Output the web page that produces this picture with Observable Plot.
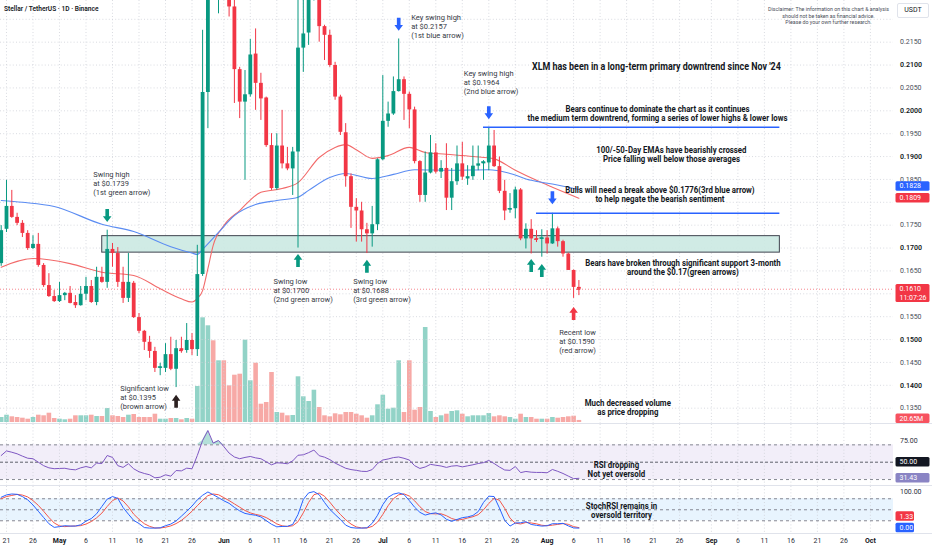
<!DOCTYPE html>
<html>
<head>
<meta charset="utf-8">
<script src="https://cdn.jsdelivr.net/npm/d3@7"></script>
<script src="https://cdn.jsdelivr.net/npm/@observablehq/plot@0.6"></script>
<style>
  html,body{margin:0;padding:0;background:#fff;}
  #chart{position:relative;width:932px;height:550px;overflow:hidden;background:#fff;font-family:Roboto,"Liberation Sans",sans-serif;}
  .sep{position:absolute;left:0;width:932px;height:1px;background:#e0e3eb;}
  #title{position:absolute;left:4px;top:5px;font-size:6.6px;font-weight:600;color:#131722;white-space:nowrap;}
  #disclaimer{position:absolute;left:755px;width:147px;top:6px;font-size:5.3px;line-height:6.5px;text-align:center;color:#4a4e59;}
  #usdt{position:absolute;left:897px;top:3px;width:32px;height:15px;border:1px solid #e0e3eb;border-radius:2px;font-size:7px;line-height:13px;text-align:center;color:#131722;box-sizing:border-box;}
</style>
</head>
<body>
<div id="chart">
  <div id="title">Stellar / TetherUS · 1D · Binance</div>
  <div id="disclaimer">Disclaimer: The information on this chart &amp; analysis<br>should not be taken as financial advice.<br>Please do your own further research.</div>
  <div id="usdt">USDT</div>
</div>
<script>
// ---------------- DATA ----------------
const firstDay = "2025-04-20";
const opens = [
  .1666,.1741,.1791,.1767,.1754,.1732,.1699,.1708,.1662,.1618,.1594,
  .1583,.1596,.1601,.1581,.1574,.1599,.1616,.1581,.1636,.1625,.1697,.1688,.1625,.1590,.1623,.1548,.1518,.1494,.1474,.1437,.1437,.1467,.1435,.1480,.1476,.1498,.1478,.1642,.2040,.2350,.2300,
  .2380,.2310,.2227,.2090,.2019,.2035,.2124,.2060,.2028,.1924,.1830,.1923,.1884,.1873,.1910,.2137,.2170,.2300,.2330,.2184,.2165,.2099,.2030,.1952,.1856,.1789,.1781,.1740,.1731,.1751,
  .1893,.1977,.1993,.2042,.2068,.2036,.2002,.1889,.1815,.1864,.1908,.1866,.1874,.1809,.1845,.1884,.1851,.1856,.1879,.1884,.1886,.1923,.1878,.1824,.1783,.1786,.1827,.1720,.1741,.1721,.1719,
  .1722,.1709,.1742,.1714,.1687,.1651,.1614
];
const highs = [
  .1749,.1848,.1826,.1776,.1760,.1738,.1727,.1732,.1666,.1644,.1607,
  .1625,.1603,.1616,.1596,.1616,.1636,.1629,.1658,.1658,.1739,.1710,.1701,.1658,.1688,.1627,.1557,.1520,.1507,.1483,.1448,.1491,.1505,.1498,.1505,.1535,.1513,.1706,.2176,.2420,.2480,.2440,
  .2420,.2330,.2245,.2095,.2088,.2156,.2179,.2082,.2030,.1950,.1950,.2001,.1920,.1920,.2260,.2250,.2350,.2400,.2350,.2187,.2176,.2106,.2034,.1972,.1862,.1808,.1800,.1754,.1791,.1895,
  .2077,.2019,.2074,.2157,.2074,.2041,.2008,.1891,.1910,.1946,.1928,.1891,.1928,.1874,.1923,.1931,.1880,.1923,.1923,.1891,.1964,.1957,.1899,.1848,.1819,.1833,.1830,.1753,.1762,.1738,.1740,
  .1738,.1776,.1746,.1717,.1689,.1652,.1629
];
const lows = [
  .1660,.1734,.1765,.1749,.1723,.1695,.1697,.1658,.1614,.1592,.1581,
  .1581,.1585,.1578,.1568,.1573,.1585,.1579,.1574,.1623,.1612,.1658,.1614,.1579,.1581,.1546,.1513,.1476,.1459,.1428,.1421,.1428,.1432,.1395,.1470,.1470,.1465,.1463,.1638,.1961,.2260,.2212,
  .2270,.2205,.2016,.1983,.1848,.2030,.2001,.1979,.1920,.1826,.1826,.1873,.1869,.1815,.1700,.2084,.2143,.2240,.2150,.2110,.2095,.2023,.1946,.1833,.1743,.1713,.1713,.1688,.1702,.1738,
  .1891,.1964,.1990,.2041,.1979,.1961,.1884,.1800,.1800,.1862,.1862,.1852,.1782,.1782,.1837,.1848,.1837,.1848,.1869,.1848,.1869,.1876,.1819,.1760,.1776,.1764,.1716,.1698,.1687,.1712,.1680,
  .1687,.1708,.1702,.1680,.1651,.1590,.1596
];
const closes = [
  .1738,.1791,.1767,.1754,.1732,.1699,.1708,.1662,.1618,.1594,.1583,
  .1596,.1601,.1579,.1574,.1599,.1616,.1581,.1636,.1625,.1697,.1688,.1625,.1590,.1625,.1548,.1518,.1494,.1474,.1437,.1440,.1467,.1435,.1480,.1476,.1498,.1478,.1642,.2040,.2350,.2300,.2380,
  .2310,.2227,.2090,.2019,.2035,.2122,.2060,.2026,.1924,.1830,.1923,.1884,.1873,.1910,.2137,.2168,.2300,.2330,.2184,.2165,.2099,.2030,.1953,.1856,.1789,.1781,.1740,.1731,.1751,.1893,
  .1977,.1993,.2042,.2068,.2036,.2002,.1889,.1815,.1864,.1908,.1866,.1874,.1809,.1845,.1884,.1855,.1856,.1879,.1884,.1888,.1923,.1878,.1824,.1781,.1786,.1827,.1720,.1741,.1720,.1719,.1722,
  .1709,.1742,.1714,.1687,.1651,.1614,.1610
];
const volumeM = [
  50,73,57,50,43,33,50,73,67,93,40,
  33,27,33,67,67,67,73,60,60,140,67,60,50,73,80,50,50,50,83,33,33,40,40,27,40,33,360,1047,967,817,617,
  617,367,473,483,823,417,593,183,200,500,100,93,67,70,457,257,210,323,150,67,57,87,77,100,100,83,67,43,67,177,
  273,133,143,617,100,617,123,150,950,110,50,67,83,110,117,83,57,67,67,67,90,57,67,57,50,33,83,50,50,33,33,
  33,50,43,50,57,63,20.65
];
const rsiValues = [
  57.7,63,61.5,59.7,57,54.6,54,50,46,43.5,42.5,
  42.8,43,41.8,41.2,43.5,45,43.5,49,48.5,57.7,55.5,46,44,48.2,42.4,39,37,35.5,32,32.7,35.5,33.9,40.4,40,43.1,42.4,57.7,75,86.5,72,75,
  68,60.5,56,54,55.5,56.6,55,54,50.5,47,49.3,49,48.2,51.5,58,58.5,61,64,57.5,55.8,53,49,46,43,41.5,40.6,39.5,39.3,41.5,48.5,
  52.5,53.7,55.3,56,54.5,52.5,46,42.8,44.5,47.5,46.5,45.6,44,45.5,46,44.6,45.8,47,48.5,49.5,52,48.5,44.5,41,40.6,45,38,39.3,38.5,38.2,38.2,
  37.8,41.6,39.5,37,34,31,31.43
];
const stochK = [
  84,90.5,93,92,86,77,63,46,29,12,2,
  4,6.5,5.5,5.5,9,19,26,39,59,79,86,81,56,38,21,12.5,1.5,0,0,0.8,6.5,11,19.5,32.5,46,60,77,89.5,98.5,91,83,
  74.5,67.5,56.5,47,40,37.2,35,30.5,20.5,10.5,3.5,4.5,5,10,37,78,96,99.5,91,70,51,37,23.5,8,1.5,0,0,0.8,13,35,
  64,84,92.5,96,91.5,75,57,43,35.5,39.5,41.5,36,24,18.5,23.5,28.5,30.5,34.4,45,70,87,86,55,21,5.5,14,14.5,17.5,10,7.5,5.5,
  6.5,12,11.8,13,6,0.5,0
];
const stochD = [
  80,86,89,92,90,85,75,62,46,29,14,
  6,4,5.3,5.8,6.7,11,18,28,41,59,75,82,74,58,38,24,12,4.7,0.5,0.3,2.4,6,12.3,21,32.7,46,61,75.5,88.5,93,91,
  83,75,66,57,48,41.4,37.4,34.2,28.7,20.5,11.5,6.2,4.3,6.5,17.3,41.7,70,91,95.5,86.8,70.7,52.7,37.2,22.8,11,3.2,0.5,0.3,4.6,16.3,
  37.3,61,80.2,90.8,93.3,87.5,74.5,58.3,45.2,39.3,38.8,39,33.8,26.2,22,23.5,27.5,31.1,36.6,49.8,67.3,81,76,54,27.2,13.5,11.3,15.3,14,11.7,7.7,
  6.5,8,10.1,12.3,10.3,4,1.33
];
const ema50Dates = ["2025-04-20","2025-04-26","2025-05-03","2025-05-09","2025-05-15","2025-05-20","2025-05-24","2025-05-26","2025-05-27","2025-05-28","2025-05-29","2025-05-30","2025-06-01","2025-06-04","2025-06-08","2025-06-12","2025-06-15","2025-06-19","2025-06-22","2025-06-24","2025-06-26","2025-06-29","2025-07-02","2025-07-06","2025-07-09","2025-07-13","2025-07-18","2025-07-22","2025-07-26","2025-07-30","2025-08-02","2025-08-07"];
const ema50Values = [.1658,.1677,.1666,.1647,.1640,.1611,.1589,.1582,.1590,.1607,.1655,.1706,.1749,.1782,.1822,.1830,.1843,.1898,.1920,.1926,.1915,.1896,.1902,.1920,.1909,.1905,.1900,.1895,.1870,.1848,.1833,.1809];
const ema100Dates = ["2025-04-20","2025-04-24","2025-04-30","2025-05-09","2025-05-15","2025-05-22","2025-05-26","2025-05-27","2025-05-28","2025-05-31","2025-06-03","2025-06-07","2025-06-11","2025-06-15","2025-06-17","2025-06-21","2025-06-24","2025-06-29","2025-07-03","2025-07-07","2025-07-14","2025-07-21","2025-07-25","2025-07-29","2025-08-02","2025-08-07"];
const ema100Values = [.1804,.1800,.1791,.1752,.1736,.1703,.1689,.1686,.1697,.1734,.1771,.1795,.1804,.1811,.1826,.1854,.1863,.1852,.1861,.1871,.1870,.1871,.1863,.1848,.1840,.1828];
const lastPrice = 0.1610;
const priceGrid = [0.1350,0.1400,0.1450,0.1500,0.1550,0.1600,0.1650,0.1700,0.1750,0.1800,0.1850,0.1900,0.1950,0.2000,0.2050,0.2100,0.2150,0.2200];
const priceLabelsStrong = [0.1400,0.1500,0.1700,0.1900,0.2000,0.2100];
const priceLabelsLight = [0.1350,0.1450,0.1550,0.1650,0.1750,0.1850,0.1950,0.2050,0.2150];
const tickDates = ["2025-04-21","2025-04-26","2025-05-01","2025-05-06","2025-05-11","2025-05-16","2025-05-21","2025-05-26","2025-06-01","2025-06-06","2025-06-11","2025-06-16","2025-06-21","2025-06-26","2025-07-01","2025-07-06","2025-07-11","2025-07-16","2025-07-21","2025-07-26","2025-08-01","2025-08-06","2025-08-11","2025-08-16","2025-08-21","2025-08-26","2025-09-01","2025-09-06","2025-09-11","2025-09-16","2025-09-21","2025-09-26","2025-10-01"];
const supportZone = {from: "2025-05-09T01:30Z", to: "2025-09-13T22:00Z", low: 0.1690, high: 0.1726};
const resistanceLevels = [
  {from: "2025-07-20T00:00Z", to: "2025-09-13T22:00Z", price: 0.1964},
  {from: "2025-07-30T00:00Z", to: "2025-09-13T22:00Z", price: 0.1776}
];
const markers = [
  {date: "2025-05-10", price: 0.1771, dir: "down", color: "#089981"},
  {date: "2025-06-15", price: 0.1673, dir: "up", color: "#089981"},
  {date: "2025-06-28", price: 0.1660, dir: "up", color: "#089981"},
  {date: "2025-07-29", price: 0.1662, dir: "up", color: "#089981"},
  {date: "2025-07-31", price: 0.1651, dir: "up", color: "#089981"},
  {date: "2025-07-04", price: 0.2189, dir: "down", color: "#2962ff"},
  {date: "2025-07-21", price: 0.1996, dir: "down", color: "#2962ff"},
  {date: "2025-08-02", price: 0.1810, dir: "down", color: "#2962ff"},
  {date: "2025-05-23", price: 0.1365, dir: "up", color: "#2b2020"},
  {date: "2025-08-06", price: 0.1557, dir: "up", color: "#f23645"}
];
const notes = [
  {date: "2025-05-07T08:40Z", price: 0.1841, text: "Swing high\nat $0.1739\n(1st green arrow)"},
  {date: "2025-07-06T08:40Z", price: 0.2185, text: "Key swing high\nat $0.2157\n(1st blue arrow)"},
  {date: "2025-07-16T06:40Z", price: 0.2062, text: "Key swing high\nat $0.1964\n(2nd blue arrow)"},
  {date: "2025-06-10T09:00Z", price: 0.1609, text: "Swing low\nat $0.1700\n(2nd green arrow)"},
  {date: "2025-06-25T10:00Z", price: 0.1607, text: "Swing low\nat $0.1688\n(3rd green arrow)"},
  {date: "2025-05-12T10:50Z", price: 0.1375, text: "Significant low\nat $0.1395\n(brown arrow)"},
  {date: "2025-08-03T06:40Z", price: 0.1497, text: "Recent low\nat $0.1590\n(red arrow)"}
];
const headline = {date: "2025-08-21T15:00Z", price: 0.2097, text: "XLM has been in a long-term primary downtrend since Nov '24"};
const callouts = [
  {date: "2025-08-21T20:00Z", price: 0.1993, text: "Bears continue to dominate the chart as it continues\nthe medium term downtrend, forming a series of lower highs & lower lows"},
  {date: "2025-08-24T11:00Z", price: 0.1905, text: "100/-50-Day EMAs have bearishly crossed\nPrice falling well below those averages"},
  {date: "2025-08-22T07:00Z", price: 0.1817, text: "Bulls will need a break above $0.1776(3rd blue arrow)\nto help negate the bearish sentiment"},
  {date: "2025-08-26T15:00Z", price: 0.1657, text: "Bears have broken through significant support 3-month\naround the $0.17(green arrows)"},
  {date: "2025-08-16T05:30Z", price: 0.1351, text: "Much decreased volume\nas price dropping"}
];
const rsiNote = {date: "2025-08-14T02:00Z", value: 41.0, text: "RSI dropping\nNot yet oversold"};
const stochNote = {date: "2025-08-15T01:00Z", value: 47.4, text: "StochRSI remains in\noversold territory"};
const rsiBand = [30, 70];
const stochBand = [20, 80];

// ---------------- BUILD ----------------
const DAY = 864e5;
const t0 = Date.parse(firstDay + "T00:00:00Z");
const candles = opens.map((o, i) => ({
  date: new Date(t0 + i * DAY), open: o, high: highs[i], low: lows[i], close: closes[i],
  volume: volumeM[i], rsi: rsiValues[i], k: stochK[i], d: stochD[i]
}));
const isUp = d => d.close >= d.open;
const UP = "#089981", DOWN = "#f23645";
const ema50 = ema50Dates.map((s, i) => ({date: new Date(s + "T00:00:00Z"), value: ema50Values[i]}));
const ema100 = ema100Dates.map((s, i) => ({date: new Date(s + "T00:00:00Z"), value: ema100Values[i]}));
const ticks = tickDates.map(s => new Date(s + "T00:00:00Z"));
const dayTicks = ticks.filter(d => d.getUTCDate() !== 1);
const monthTicks = ticks.filter(d => d.getUTCDate() === 1);
const xDomain = [new Date(Date.UTC(2025, 3, 19, 20, 50)), new Date(Date.UTC(2025, 9, 5, 8, 35))];
const X = {type: "utc", domain: xDomain, axis: null};
const W = 932, MR = 39;
const base = {width: W, marginLeft: 0, marginRight: MR, marginTop: 0, style: {background: "transparent", overflow: "visible"}};
const gridXMark = () => Plot.gridX(ticks, {stroke: "#cfd2d9", strokeOpacity: 1, strokeDasharray: "1,2.2", strokeWidth: 0.8});
const fontMain = "Roboto, 'Liberation Sans', sans-serif";
const fontBold = "Roboto, 'Liberation Sans', sans-serif";
const CALL_SIZE = 8.4, CALL_LH = 1.05, CALL_SX = 0.935;

const arrowDown = {draw(ctx, size) {
  const s = Math.sqrt(size / Math.PI);
  ctx.moveTo(-0.28 * s, -s); ctx.lineTo(0.28 * s, -s); ctx.lineTo(0.28 * s, 0.1 * s);
  ctx.lineTo(0.66 * s, 0.1 * s); ctx.lineTo(0, s); ctx.lineTo(-0.66 * s, 0.1 * s);
  ctx.lineTo(-0.28 * s, 0.1 * s); ctx.closePath();
}};
const arrowUp = {draw(ctx, size) {
  const s = Math.sqrt(size / Math.PI);
  ctx.moveTo(-0.28 * s, s); ctx.lineTo(0.28 * s, s); ctx.lineTo(0.28 * s, -0.1 * s);
  ctx.lineTo(0.66 * s, -0.1 * s); ctx.lineTo(0, -s); ctx.lineTo(-0.66 * s, -0.1 * s);
  ctx.lineTo(-0.28 * s, -0.1 * s); ctx.closePath();
}};

const root = document.getElementById("chart");
function place(svg, top) {
  svg.style.position = "absolute"; svg.style.left = "0px"; svg.style.top = top + "px";
  root.appendChild(svg); return svg;
}
function addTag(svg, cy, label, bg, opts = {}) {
  const w = opts.w ?? 34, lines = label.split("\n");
  const g = d3.select(svg).append("g").attr("font-family", fontMain).attr("font-size", 7).attr("text-anchor", "start");
  g.append("rect").attr("x", 895.5).attr("y", cy - 4.75).attr("width", w)
    .attr("height", 9.5 + (lines.length - 1) * 8.5).attr("rx", 1.5).attr("fill", bg);
  lines.forEach((t, i) => g.append("text").attr("x", 899.5).attr("y", cy + i * 8.5).attr("dy", "0.35em")
    .attr("text-anchor", "start").attr("fill", opts.color ?? "#fff").text(t));
}
// condense bold annotation text horizontally (the reference uses a narrow bold face)
function squeeze(svg, items, sx) {
  const wanted = new Set(items.map(d => d.text.replace(/\n/g, "")));
  d3.select(svg).selectAll("text").each(function () {
    if (!wanted.has(this.textContent)) return;
    const t = this.getAttribute("transform");
    if (t) this.setAttribute("transform", t + ` scale(${sx},1)`);
    else {
      const x = +this.getAttribute("x") || 0, y = +this.getAttribute("y") || 0;
      this.setAttribute("transform", `translate(${x},${y}) scale(${sx},1) translate(${-x},${-y})`);
    }
  });
}
const callText = (data, ych) => Plot.text(data, {x: d => new Date(d.date), y: ych, text: "text", textAnchor: "middle", lineAnchor: "middle",
  fontSize: CALL_SIZE, lineHeight: CALL_LH, fontWeight: "bold", fill: "#131722", fontFamily: fontBold});

// Volume layer (under price)
const PH = 423;
const volPlot = Plot.plot({
  ...base, height: PH, marginBottom: 1,
  x: X, y: {domain: [0, 4220], axis: null},
  marks: [
    Plot.ruleX(candles, {x: "date", y1: 0, y2: "volume", strokeWidth: 4.6,
      stroke: d => isUp(d) ? "#92d3c7" : "#f7a9a6"})
  ]
});
place(volPlot, 0);

// Price layer
const pricePlot = Plot.plot({
  ...base, height: PH, marginBottom: 0,
  x: X, y: {domain: [0.13165, 0.22411]},
  marks: [
    Plot.gridY(priceGrid, {stroke: "#cfd2d9", strokeOpacity: 1, strokeDasharray: "1,2.2", strokeWidth: 0.8}),
    gridXMark(),
    Plot.rect([supportZone], {x1: d => new Date(d.from), x2: d => new Date(d.to), y1: "low", y2: "high",
      fill: "#cbe9e2", fillOpacity: 0.9, stroke: "#3f434e", strokeWidth: 1}),
    Plot.ruleY([lastPrice], {stroke: "#f23645", strokeOpacity: 0.6, strokeDasharray: "1,2"}),
    Plot.line(ema50, {x: "date", y: "value", stroke: "#f26a6a", strokeWidth: 1.1, curve: "monotone-x"}),
    Plot.line(ema100, {x: "date", y: "value", stroke: "#5b8cf2", strokeWidth: 1.1, curve: "monotone-x"}),
    Plot.ruleX(candles, {x: "date", y1: "low", y2: "high", stroke: d => isUp(d) ? UP : DOWN, strokeWidth: 1, clip: true}),
    Plot.ruleX(candles, {x: "date", y1: "open", y2: "close", stroke: d => isUp(d) ? UP : DOWN, strokeWidth: 3.8, clip: true}),
    Plot.ruleY(candles.filter(d => Math.abs(d.open - d.close) < 0.0004), {y: "close",
      x1: d => new Date(+d.date - 0.36 * DAY), x2: d => new Date(+d.date + 0.36 * DAY),
      stroke: d => isUp(d) ? UP : DOWN, strokeWidth: 1.2}),
    Plot.ruleY(resistanceLevels, {y: "price", x1: d => new Date(d.from), x2: d => new Date(d.to), stroke: "#2962ff", strokeWidth: 1.6}),
    Plot.dot(markers.filter(m => m.dir === "down"), {x: d => new Date(d.date + "T00:00:00Z"), y: "price", r: 6.5, symbol: arrowDown, fill: "color", stroke: null}),
    Plot.dot(markers.filter(m => m.dir === "up"), {x: d => new Date(d.date + "T00:00:00Z"), y: "price", r: 6.5, symbol: arrowUp, fill: "color", stroke: null}),
    Plot.text(notes, {x: d => new Date(d.date), y: "price", text: "text", textAnchor: "start", lineAnchor: "middle",
      fontSize: 7.5, lineHeight: 1.2, fill: "#363a45", fontFamily: fontMain}),
    Plot.text([headline], {x: d => new Date(d.date), y: "price", text: "text", textAnchor: "middle", lineAnchor: "middle",
      fontSize: 10.5, fontWeight: "bold", fill: "#131722", fontFamily: fontBold}),
    callText(callouts, "price"),
    Plot.axisY(priceLabelsLight, {anchor: "right", tickSize: 0, tickPadding: 6.5, tickFormat: d3.format(".4f"),
      fontSize: 7, fill: "#4a4e59", fontFamily: fontMain}),
    Plot.axisY(priceLabelsStrong, {anchor: "right", tickSize: 0, tickPadding: 6.5, tickFormat: d3.format(".4f"),
      fontSize: 7, fill: "#131722", fontWeight: 600, fontFamily: fontMain})
  ]
});
place(pricePlot, 0);
squeeze(pricePlot, [headline], 0.85);
squeeze(pricePlot, callouts, CALL_SX);
const py = pricePlot.scale("y"), vy = volPlot.scale("y");
addTag(pricePlot, py.apply(0.1828) - 3, "0.1828", "#2962ff");
addTag(pricePlot, py.apply(0.1809), "0.1809", "#f23645");
addTag(pricePlot, py.apply(lastPrice), "0.1610\n11:07:26", "#f23645");
addTag(pricePlot, vy.apply(volumeM[volumeM.length - 1]) - 1.6, "20.65M", "#f7525f");

// RSI pane
const rsiPlot = Plot.plot({
  ...base, height: 61, marginBottom: 0,
  x: X, y: {domain: [23.14, 93.46]},
  marks: [
    Plot.rect([rsiBand], {x1: () => xDomain[0], x2: () => xDomain[1], y1: d => d[0], y2: d => d[1], fill: "#7e57c2", fillOpacity: 0.1}),
    gridXMark(),
    Plot.ruleY(rsiBand, {stroke: "#787b86", strokeDasharray: "3,3", strokeWidth: 0.9}),
    Plot.ruleY([50], {stroke: "#5d606b", strokeDasharray: "3,2", strokeWidth: 1}),
    Plot.areaY(candles, {x: "date", y1: 70, y2: d => Math.max(70, d.rsi), fill: "#089981", fillOpacity: 0.3}),
    Plot.line(candles, {x: "date", y: "rsi", stroke: "#7e57c2", strokeWidth: 1}),
    callText([rsiNote], "value"),
    Plot.axisY([75], {anchor: "right", tickSize: 0, tickPadding: 6.5, tickFormat: d3.format(".2f"), fontSize: 7, fill: "#2a2e39", fontFamily: fontMain})
  ]
});
place(rsiPlot, 424);
squeeze(rsiPlot, [rsiNote], CALL_SX);
const ry = rsiPlot.scale("y");
addTag(rsiPlot, ry.apply(50), "50.00", "#131722");
addTag(rsiPlot, ry.apply(rsiValues[rsiValues.length - 1]), "31.43", "#8a84c4");

// Stoch RSI pane + time axis
const stochPlot = Plot.plot({
  ...base, height: 64, marginBottom: 17,
  x: X, y: {domain: [-14.7, 113.4]},
  marks: [
    Plot.rect([stochBand], {x1: () => xDomain[0], x2: () => xDomain[1], y1: d => d[0], y2: d => d[1], fill: "#2196f3", fillOpacity: 0.1}),
    gridXMark(),
    Plot.ruleY([20, 50, 80], {stroke: "#787b86", strokeDasharray: "3,3", strokeWidth: 0.9}),
    Plot.line(candles, {x: "date", y: "d", stroke: "#f4574a", strokeWidth: 1}),
    Plot.line(candles, {x: "date", y: "k", stroke: "#2962ff", strokeWidth: 1}),
    callText([stochNote], "value"),
    Plot.axisY([100], {anchor: "right", tickSize: 0, tickPadding: 6.5, tickFormat: d3.format(".2f"), fontSize: 7, fill: "#2a2e39", fontFamily: fontMain}),
    Plot.axisX(dayTicks, {anchor: "bottom", tickSize: 0, tickPadding: 5, tickFormat: d => String(d.getUTCDate()), fontSize: 7, fill: "#2a2e39", fontFamily: fontMain}),
    Plot.axisX(monthTicks, {anchor: "bottom", tickSize: 0, tickPadding: 5, tickFormat: d3.utcFormat("%b"), fontSize: 7, fontWeight: 700, fill: "#131722", fontFamily: fontMain})
  ]
});
place(stochPlot, 486);
squeeze(stochPlot, [stochNote], CALL_SX);
const sy = stochPlot.scale("y");
addTag(stochPlot, sy.apply(0), "0.00", "#2962ff", {w: 18.5});
addTag(stochPlot, sy.apply(stochD[stochD.length - 1]) - 11, "1.33", "#f23645", {w: 18.5});

// pane separators
[423, 485, 533].forEach(y => {
  const s = document.createElement("div"); s.className = "sep"; s.style.top = y + "px"; root.appendChild(s);
});
["title", "disclaimer", "usdt"].forEach(id => root.appendChild(document.getElementById(id)));
</script>
</body>
</html>
